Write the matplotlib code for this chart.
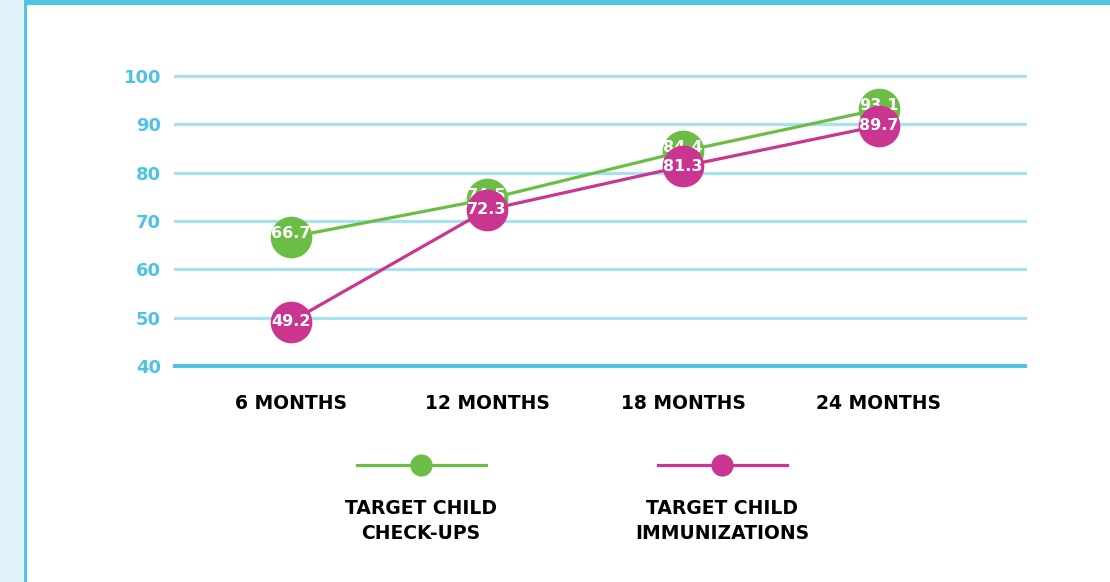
import matplotlib.pyplot as plt
from matplotlib.patches import Rectangle

# Data
categories = ['6 MONTHS', '12 MONTHS', '18 MONTHS', '24 MONTHS']
checkups = [66.7, 74.5, 84.4, 93.1]
immunizations = [49.2, 72.3, 81.3, 89.7]
yticks = [40, 50, 60, 70, 80, 90, 100]
series_names = ['TARGET CHILD\nCHECK-UPS', 'TARGET CHILD\nIMMUNIZATIONS']

green = '#6cbd45'
pink = '#c9358f'
blue = '#4fc3e3'
light_blue = '#a9e1f0'

plt.rcParams['font.family'] = ['DejaVu Sans']

fig = plt.figure(figsize=(11.1, 5.82), dpi=100)
fig.patch.set_facecolor('white')

# frame: light strip on the left, blue border lines
fig.patches.append(Rectangle((0, 0), 24 / 1110, 1, transform=fig.transFigure,
                             facecolor='#dff2f9', edgecolor='none', zorder=0))
fig.patches.append(Rectangle((24 / 1110, 0), 3 / 1110, 1, transform=fig.transFigure,
                             facecolor=blue, edgecolor='none', zorder=1))
fig.patches.append(Rectangle((24 / 1110, 1 - 5 / 582), 1, 5 / 582, transform=fig.transFigure,
                             facecolor=blue, edgecolor='none', zorder=1))

ax = fig.add_axes([175 / 1110, 1 - 366 / 582, 850 / 1110, 290 / 582])
x = list(range(len(categories)))
ax.set_xlim(-0.592, 3.745)
ax.set_ylim(40, 100)

for t in yticks:
    if t == 40:
        ax.axhline(t, color=blue, linewidth=3.0, zorder=1, clip_on=False)
    else:
        ax.axhline(t, color=light_blue, linewidth=2.3, zorder=1, clip_on=False)

# green first, its labels under the pink markers like the original
ax.plot(x, checkups, color=green, linewidth=2.3, marker='o', markersize=30,
        markeredgewidth=0, zorder=3, clip_on=False)
for xi, v in zip(x, checkups):
    ax.text(xi, v + 0.8, f'{v:.1f}', color='white', fontsize=11.5, fontweight='bold',
            ha='center', va='center', zorder=4)
ax.plot(x, immunizations, color=pink, linewidth=2.3, marker='o', markersize=30,
        markeredgewidth=0, zorder=5, clip_on=False)
for xi, v in zip(x, immunizations):
    ax.text(xi, v, f'{v:.1f}', color='white', fontsize=11.5, fontweight='bold',
            ha='center', va='center', zorder=6)

ax.set_yticks(yticks)
ax.set_yticklabels([str(t) for t in yticks], color=blue, fontsize=13, fontweight='bold')
ax.set_xticks(x)
ax.set_xticklabels(categories, color='black', fontsize=13.5, fontweight='bold')
ax.tick_params(axis='y', length=0, pad=10)
ax.tick_params(axis='x', length=0, pad=20)
for spine in ax.spines.values():
    spine.set_visible(False)
ax.set_facecolor('none')

# legend drawn in its own axes, line with marker and two-line label under it
leg = fig.add_axes([0, 0, 1, 1], facecolor='none')
leg.set_xlim(0, 1110)
leg.set_ylim(582, 0)
leg.axis('off')
for cx, color, name in zip([421, 722], [green, pink], series_names):
    leg.plot([cx - 64, cx + 65], [465, 465], color=color, linewidth=2.3)
    leg.plot([cx], [465], marker='o', markersize=16, color=color, markeredgewidth=0)
    leg.text(cx, 521, name, ha='center', va='center', fontsize=13.5,
             fontweight='bold', color='black', linespacing=1.4)

plt.savefig('out.png', dpi=100, facecolor='white')
